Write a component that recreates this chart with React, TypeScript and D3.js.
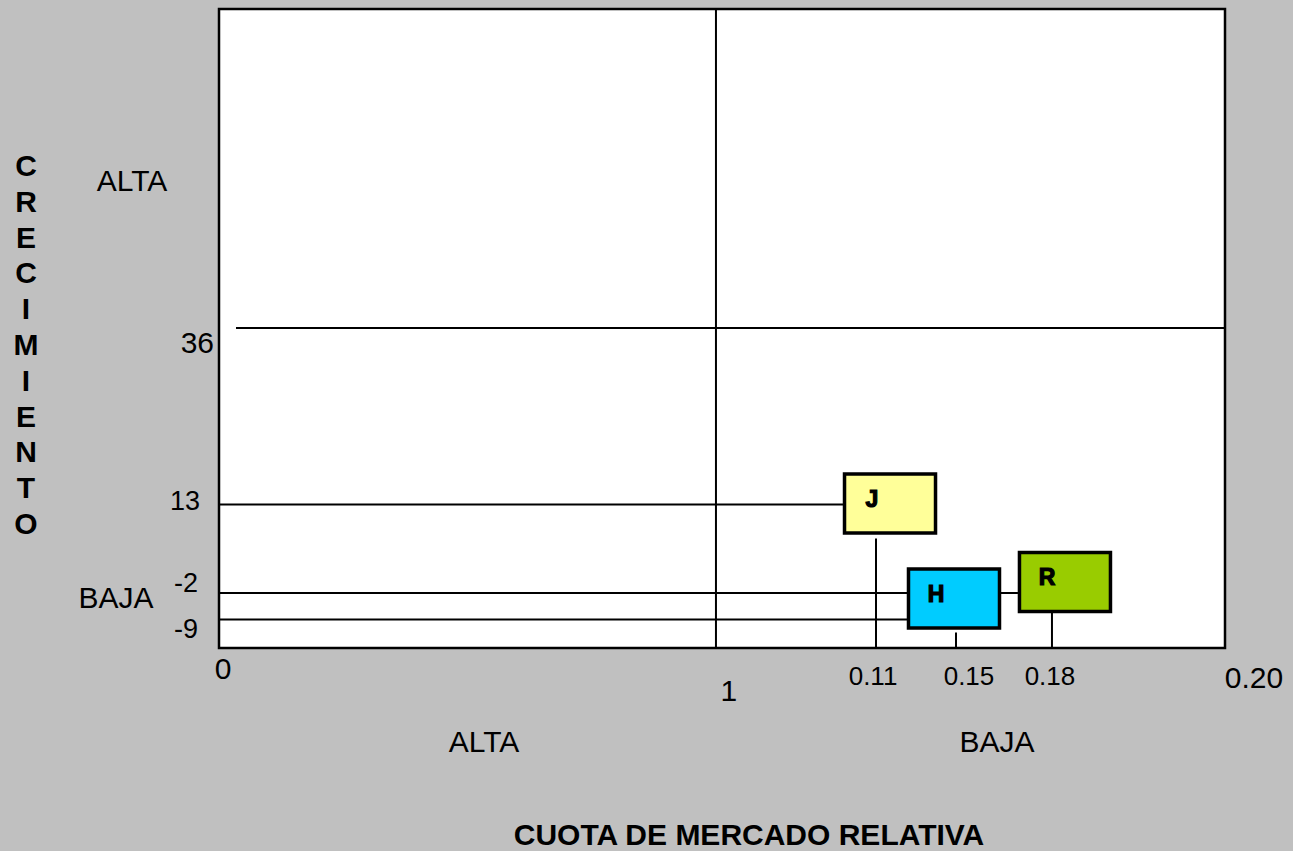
import React from "react";
import * as d3 from "d3";

// ---- data ----
const shareTicks = [0, 1, 0.11, 0.15, 0.18, 0.2];
const shareTickLabels = ["0", "1", "0.11", "0.15", "0.18", "0.20"];
const growthTicks = [36, 13, -2, -9];
const growthTickLabels = ["36", "13", "-2", "-9"];
const products = ["J", "H", "R"];
const productShare = [0.11, 0.15, 0.18];
const productGrowth = [13, -9, -2];
const productColors = ["#ffff99", "#00ccff", "#99cc00"];
const yAxisTitle = "CRECIMIENTO";
const xAxisTitle = "CUOTA DE MERCADO RELATIVA";
const quadrantLow = "BAJA";
const quadrantHigh = "ALTA";

// ---- layout ----
const W = 1293;
const H = 851;
const plot = { left: 219, right: 1225, top: 9, bottom: 648 };
// relative positions (fraction of plot width) for each share tick index
const shareFrac = [0, 0.494, 0.6531, 0.7326, 0.828, 1.0];
// pixel positions for growth ticks
const growthPx = [328, 504.5, 593, 619.5];
const boxW = 94;
const boxH = 62;
const boxOffset = [
  { dx: -33, dy: -32, gap: 4 },
  { dx: -49, dy: -52, gap: 3 },
  { dx: -34, dy: -42, gap: 0 },
];
const FONT = "'Liberation Sans', Arial, Helvetica, sans-serif";

export default function App() {
  const pw = plot.right - plot.left;
  const xIdx = d3
    .scaleLinear()
    .domain(d3.range(shareTicks.length))
    .range(shareFrac.map((f) => plot.left + f * pw));
  const x = (v: number) => xIdx(shareTicks.indexOf(v));
  const y = d3.scaleLinear().domain(growthTicks).range(growthPx);

  const xLabelStyle = [
    { size: 30, y: 679, dx: 4 },
    { size: 30, y: 701, dx: 13 },
    { size: 26, y: 685, dx: -3 },
    { size: 26, y: 685, dx: 13 },
    { size: 26, y: 685, dx: -2 },
    { size: 30, y: 688, dx: 29 },
  ];
  const yLabelStyle = [
    { size: 30, x: 214, dy: 25 },
    { size: 27, x: 200, dy: 5 },
    { size: 27, x: 198, dy: -1.5 },
    { size: 27, x: 198, dy: 18 },
  ];

  return (
    <svg
      width={W}
      height={H}
      style={{ position: "absolute", left: 0, top: 0 }}
      fontFamily={FONT}
    >
      <rect x={0} y={0} width={W} height={H} fill="#c0c0c0" />
      <rect
        x={plot.left}
        y={plot.top}
        width={pw}
        height={plot.bottom - plot.top}
        fill="#ffffff"
        stroke="#000"
        strokeWidth={2.5}
      />
      {/* quadrant dividers */}
      <line
        x1={x(1)}
        x2={x(1)}
        y1={plot.top}
        y2={plot.bottom}
        stroke="#000"
        strokeWidth={2}
      />
      <line
        x1={236}
        x2={plot.right + 1}
        y1={y(36)}
        y2={y(36)}
        stroke="#000"
        strokeWidth={2}
      />
      {/* product guide lines */}
      {products.map((p, i) => {
        const bx = x(productShare[i]) + boxOffset[i].dx;
        const by = y(productGrowth[i]) + boxOffset[i].dy;
        return (
          <g key={"l" + p}>
            <line
              x1={plot.left}
              x2={bx}
              y1={y(productGrowth[i])}
              y2={y(productGrowth[i])}
              stroke="#000"
              strokeWidth={2}
            />
            <line
              x1={x(productShare[i])}
              x2={x(productShare[i])}
              y1={by + boxH + boxOffset[i].gap}
              y2={plot.bottom}
              stroke="#000"
              strokeWidth={2}
            />
          </g>
        );
      })}
      {/* product boxes */}
      {products.map((p, i) => {
        const bx = x(productShare[i]) + boxOffset[i].dx;
        const by = y(productGrowth[i]) + boxOffset[i].dy;
        return (
          <g key={"b" + p}>
            <rect
              x={bx + 1.5}
              y={by + 1.5}
              width={boxW - 3}
              height={boxH - 3}
              fill={productColors[i]}
              stroke="#000"
              strokeWidth={3.5}
            />
            <text
              x={bx + 29}
              y={by + 34}
              textAnchor="middle"
              fontWeight="bold"
              fontSize={23}
              fill="#000"
              stroke="#000"
              strokeWidth={1.2}
            >
              {p}
            </text>
          </g>
        );
      })}
      {/* x tick labels */}
      {shareTicks.map((v, i) => (
        <text
          key={"xt" + i}
          x={x(v) + xLabelStyle[i].dx}
          y={xLabelStyle[i].y}
          textAnchor="middle"
          fontSize={xLabelStyle[i].size}
          fill="#000"
        >
          {shareTickLabels[i]}
        </text>
      ))}
      {/* y tick labels */}
      {growthTicks.map((v, i) => (
        <text
          key={"yt" + i}
          x={yLabelStyle[i].x}
          y={y(v) + yLabelStyle[i].dy}
          textAnchor="end"
          fontSize={yLabelStyle[i].size}
          fill="#000"
        >
          {growthTickLabels[i]}
        </text>
      ))}
      {/* quadrant labels */}
      <text x={132} y={191} textAnchor="middle" fontSize={30}>
        {quadrantHigh}
      </text>
      <text x={116} y={608} textAnchor="middle" fontSize={30}>
        {quadrantLow}
      </text>
      <text x={484} y={752} textAnchor="middle" fontSize={30}>
        {quadrantHigh}
      </text>
      <text x={997} y={752} textAnchor="middle" fontSize={30}>
        {quadrantLow}
      </text>
      {/* axis titles */}
      {yAxisTitle.split("").map((c, i) => (
        <text
          key={"yc" + i}
          x={26}
          y={176 + i * 35.8}
          textAnchor="middle"
          fontSize={30}
          fontWeight="bold"
        >
          {c}
        </text>
      ))}
      <text
        x={749}
        y={845}
        textAnchor="middle"
        fontSize={30}
        fontWeight="bold"
      >
        {xAxisTitle}
      </text>
    </svg>
  );
}
